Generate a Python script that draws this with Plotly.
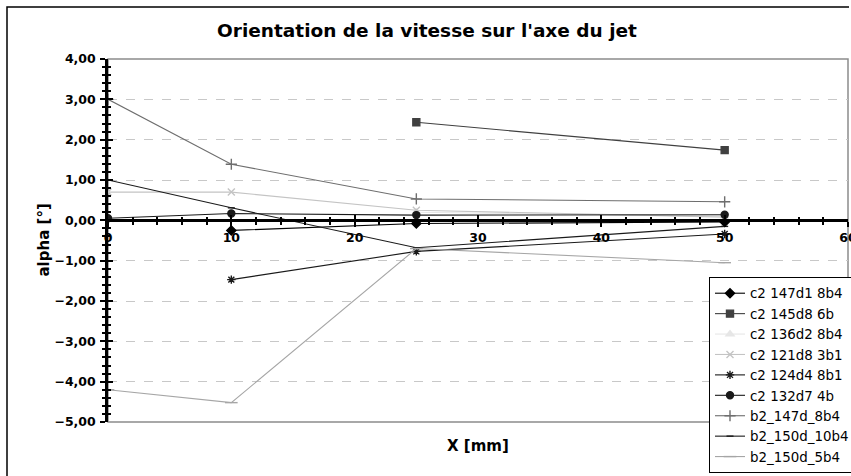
import plotly.graph_objects as go

# Distance along the jet axis [mm]
x_c2_147 = [10, 25, 50]
a_c2_147 = [-0.25, -0.08, -0.04]

x_c2_145 = [25, 50]
a_c2_145 = [2.43, 1.74]

x_c2_136 = [25, 50]
a_c2_136 = [0.20, 0.10]

x_c2_121 = [0, 10, 25, 50]
a_c2_121 = [0.70, 0.70, 0.25, 0.08]

x_c2_124 = [10, 25, 50]
a_c2_124 = [-1.47, -0.77, -0.34]

x_c2_132 = [0, 10, 25, 50]
a_c2_132 = [0.05, 0.17, 0.13, 0.14]

x_b2_147 = [0, 10, 25, 50]
a_b2_147 = [3.00, 1.39, 0.53, 0.46]

x_b2_150_10 = [0, 10, 25, 50]
a_b2_150_10 = [1.00, 0.31, -0.68, -0.15]

x_b2_150_5 = [0, 10, 25, 50]
a_b2_150_5 = [-4.20, -4.52, -0.70, -1.05]

series = [
    ("c2 147d1 8b4", x_c2_147, a_c2_147, "#000000", "diamond", 7, "#000000"),
    ("c2 145d8 6b", x_c2_145, a_c2_145, "#404040", "square", 7, "#404040"),
    ("c2 136d2 8b4", x_c2_136, a_c2_136, "#e6e6e6", "triangle-up", 7, "#e6e6e6"),
    ("c2 121d8 3b1", x_c2_121, a_c2_121, "#c4c4c4", "x-thin-open", 7, "#c4c4c4"),
    ("c2 124d4 8b1", x_c2_124, a_c2_124, "#1a1a1a", "asterisk-open", 7, "#1a1a1a"),
    ("c2 132d7 4b", x_c2_132, a_c2_132, "#1a1a1a", "circle", 7, "#1a1a1a"),
    ("b2_147d_8b4", x_b2_147, a_b2_147, "#6e6e6e", "cross-thin-open", 8, "#6e6e6e"),
    ("b2_150d_10b4", x_b2_150_10, a_b2_150_10, "#1a1a1a", "line-ew-open", 5, "#1a1a1a"),
    ("b2_150d_5b4", x_b2_150_5, a_b2_150_5, "#a6a6a6", "line-ew-open", 9, "#a6a6a6"),
]

W, H = 851, 476
L, R, T, B = 108, 3, 59, 54
plot_w = W - L - R
plot_h = H - T - B
y_min, y_max = -5, 4

FONT = "DejaVu Sans"

fig = go.Figure()
for name, xs, ys, col, sym, size, mcol in series:
    fig.add_trace(go.Scatter(
        x=xs, y=ys, name=name, mode="lines+markers",
        line=dict(color=col, width=1.1),
        marker=dict(symbol=sym, size=size, color=mcol,
                    line=dict(color=mcol, width=1.4)),
    ))

# invisible trace so the overlay axes (crossing tick marks) get drawn
fig.add_trace(go.Scatter(x=[None], y=[None], xaxis="x2", yaxis="y2",
                         showlegend=False, hoverinfo="skip"))

zero_pos = (0 - y_min) / (y_max - y_min)
bold_ticks = dict(family=FONT, size=12.5, color="#000000", weight="bold")

fig.update_layout(
    width=W, height=H,
    margin=dict(l=L, r=R, t=T, b=B, autoexpand=False),
    paper_bgcolor="white", plot_bgcolor="white",
    separators=", ",
    font=dict(family=FONT, color="#000000"),
    title=dict(text="<b>Orientation de la vitesse sur l'axe du jet</b>",
               x=427 / W, xanchor="center", y=1 - 31 / H, yanchor="middle",
               font=dict(size=18.5, family=FONT)),
    xaxis=dict(range=[0, 60], dtick=10, anchor="free", position=zero_pos,
               showline=True, linecolor="#000000", linewidth=2.5,
               ticks="outside", ticklen=5, tickwidth=2, tickcolor="#000000",
               minor=dict(dtick=2, ticks="outside", ticklen=3, tickwidth=1.5,
                          tickcolor="#000000"),
               showgrid=False, zeroline=False, tickfont=bold_ticks,
               ticklabelstandoff=0, ticklabeloverflow="allow",
               automargin=False),
    xaxis2=dict(range=[0, 60], dtick=10, anchor="free", position=zero_pos,
                overlaying="x", showline=False, showticklabels=False,
                ticks="inside", ticklen=5, tickwidth=2, tickcolor="#000000",
                minor=dict(dtick=2, ticks="inside", ticklen=3, tickwidth=1.5,
                           tickcolor="#000000"),
                showgrid=False, zeroline=False, automargin=False),
    yaxis=dict(range=[y_min, y_max], dtick=1, tickformat=".2f",
               showline=True, linecolor="#000000", linewidth=2.5,
               ticks="outside", ticklen=5, tickwidth=2, tickcolor="#000000",
               minor=dict(dtick=0.2, ticks="outside", ticklen=3, tickwidth=1.5,
                          tickcolor="#000000"),
               showgrid=True, gridcolor="#c8c8c8", gridwidth=1, griddash="dash",
               zeroline=False, tickfont=bold_ticks, ticklabelstandoff=2,
               automargin=False),
    yaxis2=dict(range=[y_min, y_max], dtick=1, overlaying="y", side="left",
                anchor="x", showline=False, showticklabels=False,
                ticks="inside", ticklen=5, tickwidth=2, tickcolor="#000000",
                minor=dict(dtick=0.2, ticks="inside", ticklen=3, tickwidth=1.5,
                           tickcolor="#000000"),
                showgrid=False, zeroline=False, automargin=False),
    legend=dict(x=(709 - L) / plot_w, y=1 - (277 - T) / plot_h,
                xanchor="left", yanchor="top",
                bordercolor="#000000", borderwidth=1, bgcolor="white",
                font=dict(size=13.4, family=FONT),
                tracegroupgap=0, itemwidth=30),
    showlegend=True,
)

# plot area frame (grey), drawn under the traces
fig.add_shape(type="rect", xref="paper", yref="paper", x0=0, x1=1, y0=0, y1=1,
              line=dict(color="#8c8c8c", width=1.5), layer="below")

# outer chart frame (top and left edges)
ox0 = (7 - L) / plot_w
oy1 = 1 + (T - 7) / plot_h
oy0 = -(H + 10 - T - plot_h) / plot_h
ox1 = (W - 2 - L) / plot_w
fig.add_shape(type="path", xref="paper", yref="paper",
              path=f"M {ox0} {oy0} L {ox0} {oy1} L {ox1} {oy1}",
              line=dict(color="#000000", width=1.5))

# axis titles
fig.add_annotation(text="<b>alpha [°]</b>", xref="paper", yref="paper",
                   x=(43 - L) / plot_w, y=0.5, xanchor="center", yanchor="middle",
                   textangle=-90, showarrow=False,
                   font=dict(size=15, family=FONT))
fig.add_annotation(text="<b>X [mm]</b>", xref="paper", yref="paper",
                   x=0.5, y=-(446 - T - plot_h) / plot_h,
                   xanchor="center", yanchor="middle", showarrow=False,
                   font=dict(size=15, family=FONT))

fig.write_html("out.html")
